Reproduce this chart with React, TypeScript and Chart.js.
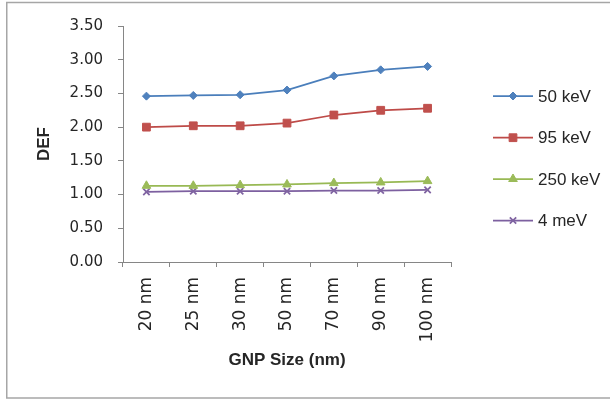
import React, { useEffect, useRef } from "react";
import { Chart, registerables } from "chart.js";
import { drawPoint } from "chart.js/helpers";

Chart.register(...registerables);

const categories = ["20 nm", "25 nm", "30 nm", "50 nm", "70 nm", "90 nm", "100 nm"];
const seriesNames = ["50 keV", "95 keV", "250 keV", "4 meV"];
const kev50 = [2.46, 2.47, 2.48, 2.55, 2.76, 2.85, 2.9];
const kev95 = [2.0, 2.02, 2.02, 2.06, 2.18, 2.25, 2.28];
const kev250 = [1.13, 1.13, 1.14, 1.15, 1.17, 1.18, 1.2];
const mev4 = [1.04, 1.05, 1.05, 1.05, 1.06, 1.06, 1.07];
const yTitle = "DEF";
const xTitle = "GNP Size (nm)";

const lineColors = ["#4A7EBB", "#BE4B48", "#98B954", "#7D60A0"];
const markerColors = ["#4F81BD", "#C0504D", "#9BBB59", "#8064A2"];
const markerStyles = ["rectRot", "rect", "triangle", "crossRot"];
const markerRadius = [4, 5.5, 5, 4.5];

const framePlugin = {
  id: "frame",
  beforeDraw(chart: any) {
    const ctx = chart.ctx;
    ctx.save();
    ctx.fillStyle = "#ffffff";
    ctx.fillRect(0, 0, chart.width, chart.height);
    ctx.strokeStyle = "#a6a6a6";
    ctx.lineWidth = 1.5;
    ctx.strokeRect(6.75, 2.5, 620, 395.5);
    ctx.restore();
  },
};

const legendPlugin = {
  id: "customLegend",
  afterDraw(chart: any) {
    const ctx = chart.ctx;
    const ys = [96, 137.7, 179, 220.5];
    ctx.save();
    chart.data.datasets.forEach((ds: any, i: number) => {
      const y = ys[i];
      ctx.strokeStyle = ds.borderColor;
      ctx.lineWidth = 1.75;
      ctx.beginPath();
      ctx.moveTo(493, y);
      ctx.lineTo(533, y);
      ctx.stroke();
      ctx.fillStyle = ds.pointBackgroundColor;
      ctx.strokeStyle = ds.pointBorderColor;
      ctx.lineWidth = ds.pointStyle === "crossRot" ? 1.75 : 1;
      drawPoint(ctx, { pointStyle: ds.pointStyle, radius: ds.pointRadius, rotation: 0, borderWidth: ctx.lineWidth }, 513, y);
      ctx.fillStyle = "#262626";
      ctx.font = "17px 'Liberation Sans', Arial, sans-serif";
      ctx.textAlign = "left";
      ctx.textBaseline = "middle";
      ctx.fillText(ds.label, 538, y + 1);
    });
    ctx.restore();
  },
};

export default function App() {
  const ref = useRef<HTMLCanvasElement>(null);
  useEffect(() => {
    if (!ref.current) return;
    const values = [kev50, kev95, kev250, mev4];
    const chart = new Chart(ref.current, {
      type: "line",
      data: {
        labels: categories,
        datasets: values.map((v, i) => ({
          label: seriesNames[i],
          data: v,
          borderColor: lineColors[i],
          backgroundColor: markerColors[i],
          pointBackgroundColor: markerColors[i],
          pointBorderColor: markerColors[i],
          pointStyle: markerStyles[i],
          pointRadius: markerRadius[i],
          pointBorderWidth: markerStyles[i] === "crossRot" ? 1.75 : 1,
          borderWidth: 1.75,
          tension: 0,
          fill: false,
        })),
      },
      options: {
        responsive: false,
        animation: false,
        devicePixelRatio: 1,
        layout: { padding: { left: 0, top: 26, right: 159, bottom: 29 } },
        plugins: { legend: { display: false }, tooltip: { enabled: false } },
        scales: {
          x: {
            type: "category",
            offset: true,
            grid: { offset: true, drawOnChartArea: false, drawTicks: true, tickLength: 5, color: "#868686" },
            border: { color: "#868686", width: 1 },
            ticks: {
              autoSkip: false,
              minRotation: 90,
              maxRotation: 90,
              padding: 10,
              color: "#262626",
              font: { family: "'DejaVu Sans', sans-serif", size: 17 },
            },
            title: {
              display: true,
              text: xTitle,
              color: "#262626",
              font: { family: "'Liberation Sans', Arial, sans-serif", size: 17, weight: "bold" },
              padding: { top: 0, bottom: 0 },
            },
            afterFit: (scale: any) => {
              scale.height = 109;
            },
          },
          y: {
            min: 0,
            max: 3.5,
            grid: { drawOnChartArea: false, drawTicks: true, tickLength: 5, color: "#868686" },
            border: { color: "#868686", width: 1 },
            ticks: {
              stepSize: 0.5,
              padding: 15,
              color: "#262626",
              font: { family: "'DejaVu Sans', sans-serif", size: 15 },
              callback: (v: any) => Number(v).toFixed(2),
            },
            title: {
              display: true,
              text: yTitle,
              color: "#262626",
              font: { family: "'Liberation Sans', Arial, sans-serif", size: 17, weight: "bold" },
              padding: { top: 34, bottom: 0 },
            },
            afterFit: (scale: any) => {
              scale.width = 123;
            },
          },
        },
      },
      plugins: [framePlugin, legendPlugin],
    } as any);
    return () => chart.destroy();
  }, []);
  return (
    <div style={{ position: "fixed", left: 0, top: 0, width: 610, height: 400 }}>
      <canvas ref={ref} width={610} height={400} style={{ width: 610, height: 400, display: "block" }} />
    </div>
  );
}
